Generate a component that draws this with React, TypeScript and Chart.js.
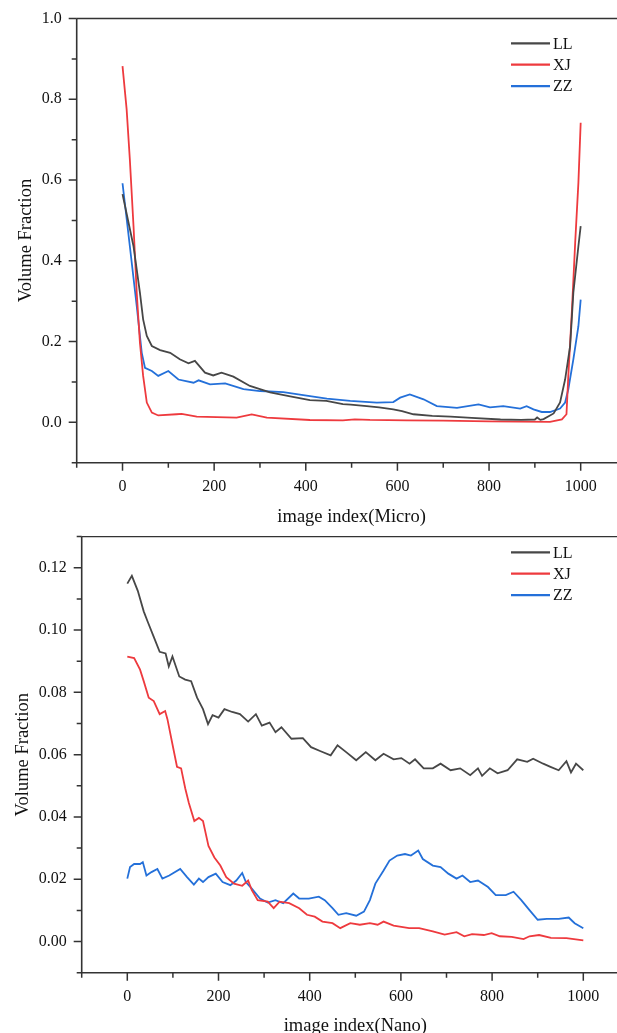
import React, { useEffect, useRef } from "react";
import { Chart, registerables } from "chart.js";

Chart.register(...registerables);

const seriesNames = ["LL", "XJ", "ZZ"];
const seriesColors = ["#474747", "#ee3a3e", "#2470d9"];

// Micro (top chart) — [image index, volume fraction]
const microLL: [number, number][] = [
  [0, 0.565], [24, 0.436], [38, 0.321], [45, 0.255], [53, 0.214], [64, 0.189], [82, 0.179],
  [104, 0.172], [125, 0.156], [144, 0.146], [158, 0.152], [180, 0.123], [198, 0.116],
  [216, 0.123], [242, 0.113], [278, 0.09], [322, 0.074], [366, 0.064], [409, 0.055],
  [445, 0.053], [481, 0.045], [498, 0.044], [533, 0.04], [560, 0.037], [591, 0.032],
  [610, 0.028], [635, 0.02], [676, 0.016], [716, 0.014], [762, 0.011], [825, 0.007],
  [870, 0.006], [900, 0.007], [905, 0.012], [912, 0.006], [919, 0.008], [941, 0.022],
  [955, 0.049], [966, 0.106], [977, 0.189], [984, 0.321], [995, 0.436], [1000, 0.486],
];
const microXJ: [number, number][] = [
  [0, 0.882], [9, 0.775], [16, 0.651], [24, 0.486], [31, 0.321], [38, 0.197], [45, 0.115],
  [53, 0.049], [64, 0.024], [78, 0.017], [118, 0.02], [129, 0.021], [162, 0.014],
  [249, 0.0116], [282, 0.0198], [315, 0.0116], [409, 0.0057], [481, 0.0049], [507, 0.0074],
  [540, 0.006], [620, 0.005], [700, 0.004], [800, 0.0025], [933, 0.001], [959, 0.0074],
  [969, 0.02], [973, 0.115], [981, 0.28], [988, 0.445], [995, 0.593], [1000, 0.742],
];
const microZZ: [number, number][] = [
  [0, 0.592], [16, 0.436], [31, 0.288], [42, 0.172], [49, 0.135], [64, 0.127], [78, 0.115],
  [100, 0.127], [122, 0.106], [155, 0.098], [166, 0.104], [191, 0.094], [224, 0.0965],
  [264, 0.082], [300, 0.0775], [351, 0.075], [409, 0.065], [446, 0.0587], [497, 0.053],
  [555, 0.049], [591, 0.05], [606, 0.061], [627, 0.069], [657, 0.057], [686, 0.04],
  [730, 0.036], [777, 0.0446], [802, 0.037], [831, 0.04], [868, 0.034], [882, 0.04],
  [897, 0.032], [915, 0.0256], [933, 0.0256], [955, 0.034], [966, 0.049], [973, 0.082],
  [984, 0.156], [995, 0.238], [1000, 0.304],
];

// Nano (bottom chart)
const nanoLL: [number, number][] = [
  [0, 0.1149], [10, 0.1174], [23, 0.1126], [36, 0.106], [45, 0.1026], [58, 0.0978],
  [71, 0.093], [84, 0.0925], [91, 0.0883], [99, 0.0915], [114, 0.0851], [127, 0.0841],
  [140, 0.0836], [153, 0.0783], [166, 0.0746], [177, 0.0698], [187, 0.0727], [200, 0.0719],
  [213, 0.0746], [230, 0.0737], [247, 0.073], [265, 0.0706], [282, 0.073], [295, 0.0693],
  [312, 0.0703], [325, 0.0672], [338, 0.0688], [360, 0.0651], [385, 0.0653], [403, 0.0624],
  [424, 0.0611], [446, 0.0598], [461, 0.063], [480, 0.0608], [502, 0.0582], [523, 0.0608],
  [544, 0.0582], [562, 0.0603], [584, 0.0585], [601, 0.0589], [619, 0.0571], [631, 0.0585],
  [650, 0.0556], [670, 0.0556], [687, 0.0571], [709, 0.055], [730, 0.0556], [752, 0.0534],
  [769, 0.0556], [778, 0.0532], [795, 0.0556], [812, 0.054], [834, 0.055], [855, 0.0585],
  [877, 0.0577], [890, 0.0587], [912, 0.0571], [928, 0.0561], [946, 0.055], [963, 0.0579],
  [973, 0.0543], [984, 0.0571], [1000, 0.055],
];
const nanoXJ: [number, number][] = [
  [0, 0.0915], [15, 0.091], [28, 0.0873], [36, 0.0836], [47, 0.0783], [58, 0.0772],
  [71, 0.073], [83, 0.074], [88, 0.0714], [101, 0.0619], [109, 0.0561], [118, 0.0556],
  [127, 0.0492], [135, 0.0445], [147, 0.0387], [157, 0.0397], [166, 0.0387], [178, 0.0307],
  [191, 0.027], [204, 0.0244], [217, 0.0207], [234, 0.0186], [252, 0.0179], [265, 0.0196],
  [273, 0.0165], [286, 0.0133], [308, 0.0128], [321, 0.0107], [334, 0.0128], [355, 0.0123],
  [377, 0.0107], [394, 0.0086], [411, 0.008], [428, 0.0064], [450, 0.0059], [467, 0.0043],
  [489, 0.0059], [510, 0.0054], [532, 0.0059], [549, 0.0054], [562, 0.0064], [584, 0.0051],
  [618, 0.0043], [640, 0.0043], [670, 0.0033], [696, 0.0022], [722, 0.003], [739, 0.0017],
  [756, 0.0024], [782, 0.0021], [799, 0.0027], [817, 0.0017], [843, 0.0015], [869, 0.0008],
  [882, 0.0017], [903, 0.0021], [929, 0.0012], [963, 0.0011], [1000, 0.0004],
];
const nanoZZ: [number, number][] = [
  [0, 0.0202], [6, 0.0239], [15, 0.0249], [28, 0.0249], [34, 0.0255], [42, 0.0212],
  [53, 0.0223], [66, 0.0233], [77, 0.0202], [92, 0.0212], [116, 0.0233], [131, 0.0207],
  [146, 0.0183], [157, 0.0202], [166, 0.0191], [178, 0.0207], [194, 0.0218], [209, 0.0191],
  [226, 0.0181], [239, 0.0196], [252, 0.022], [260, 0.0191], [273, 0.017], [291, 0.0138],
  [308, 0.0125], [325, 0.0133], [342, 0.0123], [364, 0.0154], [377, 0.0138], [398, 0.0138],
  [420, 0.0144], [433, 0.0133], [450, 0.0107], [463, 0.0086], [480, 0.0091], [502, 0.0083],
  [519, 0.0096], [532, 0.0133], [544, 0.0186], [562, 0.0228], [575, 0.026], [592, 0.0276],
  [609, 0.0281], [622, 0.0276], [638, 0.0292], [648, 0.0265], [670, 0.0244], [687, 0.0239],
  [704, 0.0218], [722, 0.0202], [735, 0.0212], [752, 0.0191], [769, 0.0196], [791, 0.0175],
  [808, 0.0149], [830, 0.0149], [847, 0.016], [864, 0.0133], [882, 0.0101], [900, 0.007],
  [920, 0.0073], [946, 0.0073], [968, 0.0077], [981, 0.0059], [1000, 0.0043],
];

const xLabelStep = 200;
const fontFamily = "'Liberation Serif', 'Times New Roman', serif";
const textColor = "#111";

const framePlugin = {
  id: "frame",
  afterDraw(chart: any) {
    const { ctx, chartArea: a, scales } = chart;
    const x = scales.x;
    const y = scales.y;
    ctx.save();
    ctx.strokeStyle = "#333";
    ctx.lineWidth = 1.6;
    ctx.beginPath();
    ctx.moveTo(a.left, a.top);
    ctx.lineTo(a.left, a.bottom);
    ctx.lineTo(a.right + 20, a.bottom);
    ctx.stroke();
    ctx.lineWidth = 1.3;
    ctx.beginPath();
    ctx.moveTo(a.left, a.top);
    ctx.lineTo(a.right + 20, a.top);
    ctx.stroke();
    ctx.lineWidth = 1.5;
    ctx.beginPath();
    x.ticks.forEach((t: any) => {
      const px = x.getPixelForValue(t.value);
      const len = t.label !== "" ? 8 : 5;
      ctx.moveTo(px, a.bottom);
      ctx.lineTo(px, a.bottom + len);
    });
    y.ticks.forEach((t: any) => {
      const py = y.getPixelForValue(t.value);
      const len = t.label !== "" ? 8 : 5;
      ctx.moveTo(a.left, py);
      ctx.lineTo(a.left - len, py);
    });
    ctx.stroke();
    ctx.restore();
  },
};

const legendPlugin = {
  id: "cornerLegend",
  afterDraw(chart: any, _args: any, opts: any) {
    const { ctx } = chart;
    ctx.save();
    ctx.font = `16px ${fontFamily}`;
    ctx.textBaseline = "middle";
    ctx.textAlign = "left";
    chart.data.datasets.forEach((ds: any, i: number) => {
      const yy = opts.top + i * opts.gap;
      ctx.strokeStyle = ds.borderColor;
      ctx.lineWidth = 2.2;
      ctx.beginPath();
      ctx.moveTo(opts.x0, yy);
      ctx.lineTo(opts.x1, yy);
      ctx.stroke();
      ctx.fillStyle = textColor;
      ctx.fillText(ds.label, opts.x1 + 3, yy + 1);
    });
    ctx.restore();
  },
};

type PanelProps = {
  series: [number, number][][];
  yMin: number;
  yMax: number;
  yStep: number;
  yDecimals: number;
  xTitle: string;
  width: number;
  height: number;
  areaLeft: number;
  areaTop: number;
  areaBottom: number;
  padRight: number;
  yTitlePad: number;
  xTitlePad: number;
  legendTop: number;
};

function Panel(p: PanelProps) {
  const ref = useRef<HTMLCanvasElement | null>(null);
  useEffect(() => {
    if (!ref.current) return;
    const chart = new Chart(ref.current, {
      type: "line",
      data: {
        datasets: p.series.map((s, i) => ({
          label: seriesNames[i],
          data: s.map(([x, y]) => ({ x, y })),
          borderColor: seriesColors[i],
          backgroundColor: seriesColors[i],
          borderWidth: 1.8,
          pointRadius: 0,
          tension: 0,
          fill: false,
        })),
      },
      options: {
        responsive: false,
        animation: false,
        devicePixelRatio: 1,
        layout: { padding: { top: p.areaTop, left: 0, right: p.padRight, bottom: 0 } },
        plugins: {
          legend: { display: false },
          tooltip: { enabled: false },
          cornerLegend: { x0: 511, x1: 550, top: p.legendTop, gap: 21.4 },
        } as any,
        scales: {
          x: {
            type: "linear",
            min: -100,
            max: 1100,
            grid: { display: false, tickLength: 8 },
            border: { display: false },
            afterFit: (s: any) => {
              s.height = p.height - p.areaBottom;
            },
            ticks: {
              stepSize: 100,
              autoSkip: false,
              maxRotation: 0,
              padding: 6,
              color: textColor,
              font: { family: fontFamily, size: 16 },
              callback: (v: any) => {
                const n = Number(v);
                return n >= 0 && n <= 1000 && Math.round(n) % xLabelStep === 0 ? String(Math.round(n)) : "";
              },
            },
            title: {
              display: true,
              text: p.xTitle,
              color: textColor,
              font: { family: fontFamily, size: 18.5 },
              padding: { top: 0, bottom: p.xTitlePad },
            },
          },
          y: {
            type: "linear",
            min: p.yMin,
            max: p.yMax,
            grid: { display: false, tickLength: 8 },
            border: { display: false },
            afterFit: (s: any) => {
              s.width = p.areaLeft;
            },
            ticks: {
              stepSize: p.yStep,
              autoSkip: false,
              padding: 7,
              color: textColor,
              font: { family: fontFamily, size: 16 },
              callback: (v: any) => {
                const n = Math.round(Number(v) / p.yStep);
                return n >= 0 && n % 2 === 0 ? Number(v).toFixed(p.yDecimals) : "";
              },
            },
            title: {
              display: true,
              text: "Volume Fraction",
              color: textColor,
              font: { family: fontFamily, size: 18.5 },
              padding: { top: p.yTitlePad, bottom: 0 },
            },
          },
        },
      },
      plugins: [framePlugin, legendPlugin],
    });
    return () => chart.destroy();
  }, []);
  return (
    <canvas
      ref={ref}
      width={p.width}
      height={p.height}
      style={{ width: p.width, height: p.height, display: "block" }}
    />
  );
}

export default function App() {
  return (
    <div
      style={{
        position: "fixed",
        left: 0,
        top: 0,
        width: 617,
        height: 1033,
        overflow: "hidden",
        background: "#fff",
      }}
    >
      <div style={{ position: "absolute", left: 0, top: 0 }}>
        <Panel
          series={[microLL, microXJ, microZZ]}
          yMin={-0.1}
          yMax={1.0}
          yStep={0.1}
          yDecimals={1}
          xTitle="image index(Micro)"
          width={640}
          height={530}
          areaLeft={76.7}
          areaTop={18.5}
          areaBottom={462.7}
          padRight={13.5}
          yTitlePad={15}
          xTitlePad={1.3}
          legendTop={43.3}
        />
      </div>
      <div style={{ position: "absolute", left: 0, top: 520 }}>
        <Panel
          series={[nanoLL, nanoXJ, nanoZZ]}
          yMin={-0.01}
          yMax={0.13}
          yStep={0.01}
          yDecimals={2}
          xTitle="image index(Nano)"
          width={640}
          height={530}
          areaLeft={81.7}
          areaTop={11.7}
          areaBottom={452.7}
          padRight={11.1}
          yTitlePad={12.5}
          xTitlePad={13.1}
          legendTop={32.3}
        />
      </div>
    </div>
  );
}
